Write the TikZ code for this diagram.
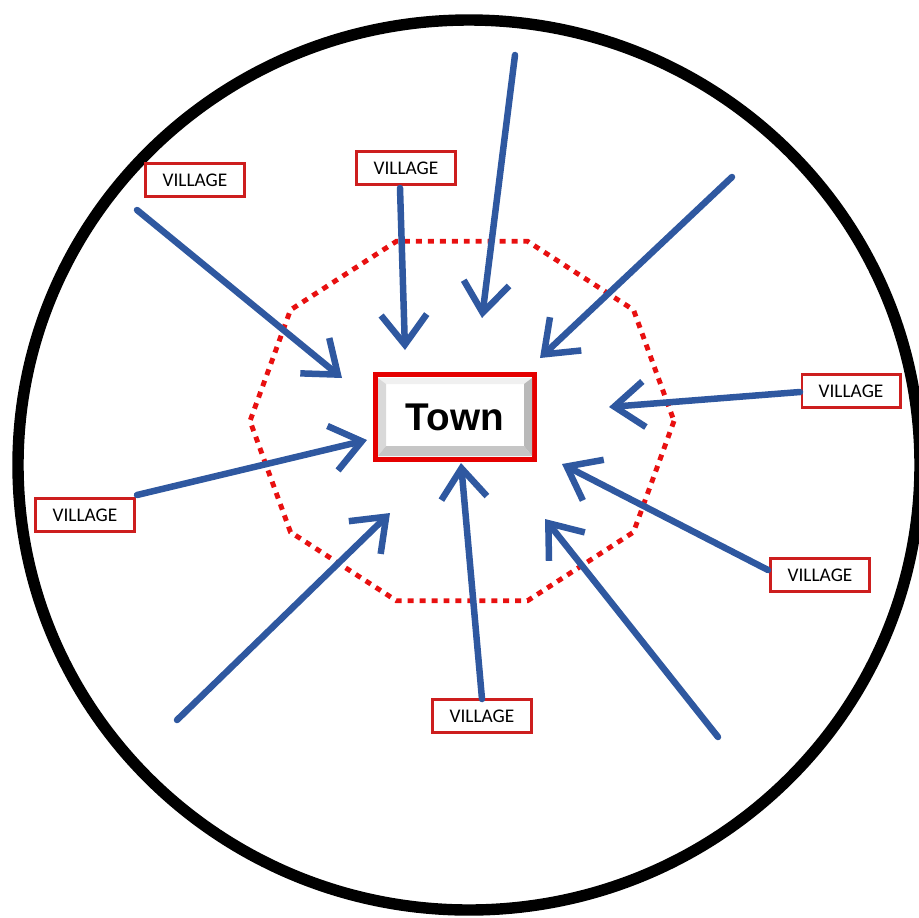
\documentclass[tikz,border=0pt]{standalone}
\usepackage{fontspec}
\setmainfont{Carlito}
\newfontfamily\townfont{Liberation Sans}
\usetikzlibrary{arrows.meta}
\definecolor{flowblue}{RGB}{47,88,160}
\definecolor{boxred}{RGB}{205,30,30}
\definecolor{ringred}{RGB}{232,16,16}

\tikzset{
  village/.style={draw=boxred, line width=1.2pt, fill=white, minimum width=56.3pt, minimum height=18.8pt, inner sep=0pt, font=\fontsize{11}{13}\selectfont},
  town/.style={draw=red!90!black, line width=2.8pt, fill=white, minimum width=90.5pt, minimum height=48pt, inner sep=0pt, font=\townfont\bfseries\fontsize{22}{26}\selectfont},
  flow/.style={draw=flowblue, line width=3.7pt, line cap=round, -{Straight Barb[length=17pt,width=26pt]}},
  ring/.style={draw=ringred, line width=2.8pt, dash pattern=on 3.4pt off 3.4pt}
}

\begin{document}
\begin{tikzpicture}[x=0.02cm, y=-0.02cm]
  \clip (0,0) rectangle (919,917);
  \draw[line width=6.5pt] (469,465) ellipse [x radius=451, y radius=445];
  \draw[ring] plot[samples at={0,36,...,324}] ({462+212*cos(\x)},{421+189*sin(\x)}) -- cycle;

  \node[village] (v1) at (195,180) {VILLAGE};
  \node[village] (v2) at (406,168) {VILLAGE};
  \node[village] (v3) at (851,391) {VILLAGE};
  \node[village] (v4) at (85,515) {VILLAGE};
  \node[village] (v5) at (820,575) {VILLAGE};
  \node[village] (v6) at (482,716) {VILLAGE};

  \node[town] (town) at (455,417) {Town};
  \fill[gray!12] (378,378) -- (532,378) -- (524,384) -- (386,384) -- cycle;
  \fill[gray!30] (378,378) -- (386,384) -- (386,446) -- (378,456) -- cycle;
  \fill[gray!55] (532,378) -- (532,456) -- (524,446) -- (524,384) -- cycle;
  \fill[gray!45] (378,456) -- (532,456) -- (524,446) -- (386,446) -- cycle;

  \coordinate (t1) at (137,210);
  \coordinate (t2) at (400,188);
  \coordinate (t3) at (515,55);
  \coordinate (t4) at (732,177);
  \coordinate (t5) at (800,392);
  \coordinate (t6) at (137,495);
  \coordinate (t7) at (177,720);
  \coordinate (t8) at (482,699);
  \coordinate (t9) at (718,737);
  \coordinate (t10) at (768,570);

  \coordinate (h1) at (342,378);
  \coordinate (h2) at (405,350);
  \coordinate (h3) at (482,318);
  \coordinate (h4) at (540,358);
  \coordinate (h5) at (609,407);
  \coordinate (h6) at (367,440);
  \coordinate (h7) at (390,513);
  \coordinate (h8) at (461,463);
  \coordinate (h9) at (545,519);
  \coordinate (h10) at (562,464);

  \path[every edge/.style=flow]
  (t1) edge (h1)
  (t2) edge (h2)
  (t3) edge (h3)
  (t4) edge (h4)
  (t5) edge (h5)
  (t6) edge (h6)
  (t7) edge (h7)
  (t8) edge (h8)
  (t9) edge (h9)
  (t10) edge (h10)
  ;
\end{tikzpicture}
\end{document}
